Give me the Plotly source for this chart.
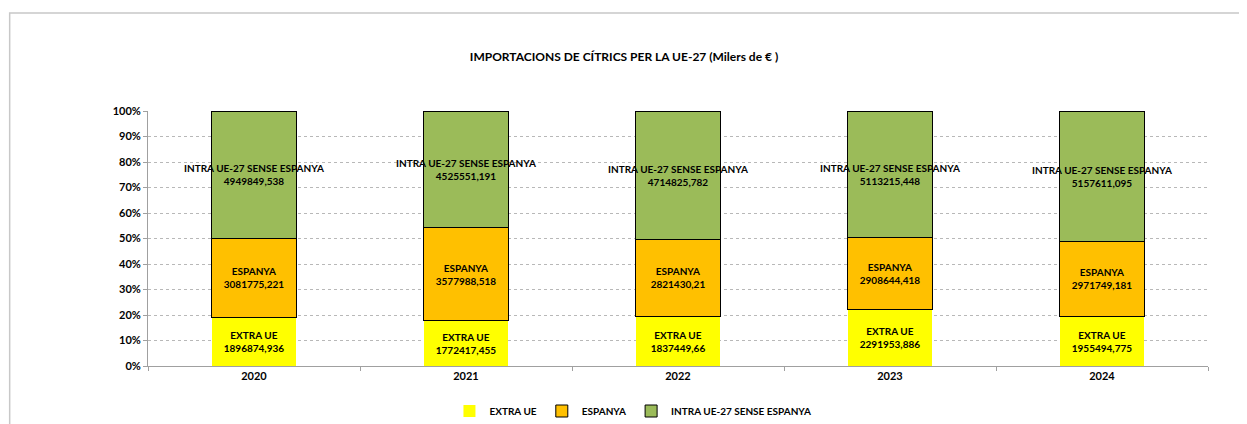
import plotly.graph_objs as go

YEARS = ['2020', '2021', '2022', '2023', '2024']
EXTRA_UE = [1896874.936, 1772417.455, 1837449.66, 2291953.886, 1955494.775]
ESPANYA = [3081775.221, 3577988.518, 2821430.21, 2908644.418, 2971749.181]
INTRA_UE = [4949849.538, 4525551.191, 4714825.782, 5113215.448, 5157611.095]

SERIES = [
    ('EXTRA UE', EXTRA_UE, '#FFFF00', 0),
    ('ESPANYA', ESPANYA, '#FFC000', 1),
    ('INTRA UE-27 SENSE ESPANYA', INTRA_UE, '#9BBB59', 1),
]

FONT = 'Lato, Carlito, Calibri, Arial, sans-serif'


def fmt(v):
    s = ('%.3f' % v).rstrip('0').rstrip('.')
    return s.replace('.', ',')


traces = []
for name, vals, color, lw in SERIES:
    traces.append(
        go.Bar(
            x=YEARS,
            y=vals,
            name=f'<b>{name}</b>',
            marker=dict(
                color=color,
                line=dict(color='#000000', width=lw),
            ),
            width=0.4,
            text=[f'<b>{name}<br>{fmt(v)}</b>' for v in vals],
            textposition='inside',
            insidetextanchor='middle',
            textangle=0,
            constraintext='none',
            textfont=dict(family=FONT, size=10, color='#000000'),
            hoverinfo='skip',
        )
    )

fig = go.Figure(
    data=traces,
    layout=dict(
        width=1247,
        height=424,
        barmode='stack',
        barnorm='percent',
        paper_bgcolor='white',
        plot_bgcolor='white',
        margin=dict(l=140, r=47, t=103, b=66),
        font=dict(family=FONT, size=11, color='#000000'),
        title=dict(
            text='<b>IMPORTACIONS DE CÍTRICS PER LA UE-27 (Milers de € )</b>',
            x=0.494,
            xref='container',
            xanchor='center',
            y=1 - 49 / 424,
            yref='container',
            yanchor='middle',
            font=dict(family=FONT, size=12, color='#000000'),
        ),
        xaxis=dict(
            type='category',
            showline=True,
            linecolor='#A0A0A0',
            linewidth=1,
            ticks='outside',
            ticklen=4,
            tickcolor='#A0A0A0',
            tickson='boundaries',
            tickfont=dict(family=FONT, size=11, weight='bold'),
            showgrid=False,
        ),
        yaxis=dict(
            range=[0, 100],
            dtick=10,
            ticksuffix='%',
            showline=True,
            linecolor='#A0A0A0',
            linewidth=1,
            ticks='outside',
            ticklen=4,
            tickcolor='#A0A0A0',
            showgrid=True,
            gridcolor='#B8B8B8',
            griddash='dot',
            gridwidth=1,
            zeroline=False,
            tickfont=dict(family=FONT, size=11, weight='bold'),
        ),
        legend=dict(
            orientation='h',
            x=0.4575,
            xanchor='center',
            xref='paper',
            y=(424 - 403) / 424,
            yref='container',
            yanchor='middle',
            font=dict(family=FONT, size=10),
            traceorder='normal',
            itemwidth=30,
        ),
        shapes=[
            dict(
                type='rect',
                xref='paper',
                yref='paper',
                x0=-0.1305,
                x1=1.2,
                y0=-0.5,
                y1=1.384,
                line=dict(color='#C8C8C8', width=1.5),
                layer='below',
            )
        ],
    )
)

fig.write_html('out.html')
